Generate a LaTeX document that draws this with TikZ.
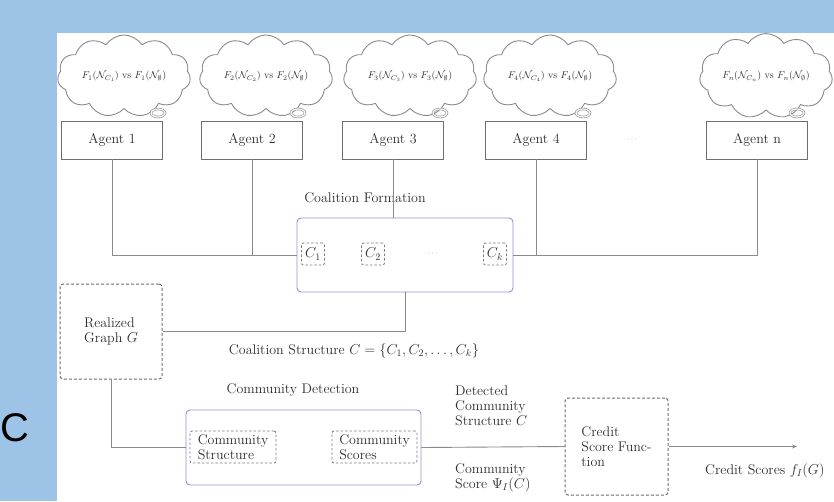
\documentclass[tikz,border=0pt]{standalone}
\usepackage{fontspec}
\newfontfamily\bigfont{Liberation Sans}
\usetikzlibrary{shapes.symbols,shapes.geometric,arrows.meta}
\definecolor{bgblue}{HTML}{9DC3E6}
\definecolor{linegray}{HTML}{8A8A8A}
\definecolor{boxgray}{HTML}{6E6E6E}
\definecolor{purp}{HTML}{9490DA}
\definecolor{dashgray}{HTML}{7A7A7A}
\definecolor{txt}{HTML}{2E2E2E}
\begin{document}
\begin{tikzpicture}[x=1pt,y=-1pt,
  font=\fontsize{14}{15}\selectfont, text=txt,
  line/.style={draw=linegray, line width=0.9pt},
  agent/.style={draw=boxgray, line width=0.9pt, minimum width=101pt, minimum height=38pt, inner sep=0pt},
  cloudnode/.style={cloud, cloud puffs=11, cloud puff arc=115, aspect=1.8, draw=linegray, line width=0.9pt,
     minimum width=133pt, inner sep=0pt, font=\fontsize{10}{11}\selectfont},
  bubble/.style={ellipse, draw=linegray, line width=0.6pt, double, double distance=1.2pt,
     minimum width=14pt, minimum height=8pt, inner sep=0pt},
  purplebox/.style={draw=purp, line width=0.9pt, rounded corners=4pt, inner sep=0pt},
  dashbox/.style={draw=dashgray, dash pattern=on 2.5pt off 2pt, line width=0.8pt, rounded corners=2pt, inner sep=1pt},
  bigdash/.style={draw=boxgray, dash pattern=on 3pt off 2pt, line width=1pt, rounded corners=3pt, inner sep=0pt},
  lbl/.style={inner sep=0pt, align=left},
]
\fill[bgblue] (0,0) rectangle (834,501);
\fill[white] (57,33) rectangle (834,501);
\useasboundingbox (0,0) rectangle (834,501);
\node[font=\fontsize{40}{40}\bigfont, text=black, anchor=east, inner sep=0pt] (bigc) at (30,428) {C};

% clouds
\node[cloudnode] (cl1) at (124,76) {$F_1(\mathcal{N}_{C_1})$ vs $F_1(\mathcal{N}_{\emptyset})$};
\node[cloudnode] (cl2) at (266,76) {$F_2(\mathcal{N}_{C_2})$ vs $F_2(\mathcal{N}_{\emptyset})$};
\node[cloudnode] (cl3) at (410,76) {$F_3(\mathcal{N}_{C_3})$ vs $F_3(\mathcal{N}_{\emptyset})$};
\node[cloudnode] (cl4) at (550,76) {$F_4(\mathcal{N}_{C_4})$ vs $F_4(\mathcal{N}_{\emptyset})$};
\node[cloudnode] (cln) at (766,76) {$F_n(\mathcal{N}_{C_n})$ vs $F_n(\mathcal{N}_{\emptyset})$};
\node[bubble] (b1) at (158,113) {};
\node[bubble] (b2) at (298,113) {};
\node[bubble] (b3) at (440,113) {};
\node[bubble] (b4) at (583,113) {};
\node[bubble] (bn) at (797,113) {};

% agents
\node[agent] (a1) at (112,140) {Agent 1};
\node[agent] (a2) at (252,140) {Agent 2};
\node[agent] (a3) at (393,140) {Agent 3};
\node[agent] (a4) at (536,140) {Agent 4};
\node[agent] (an) at (757,140) {Agent n};
\node[inner sep=0pt, font=\fontsize{8}{8}\selectfont, text=linegray] (adots) at (632,140) {$\cdots$};

% coalition formation
\node[purplebox, minimum width=216pt, minimum height=74pt] (cf) at (405,255) {};
\node[inner sep=0pt] (cflab) at (365,198) {Coalition Formation};
\node[dashbox, minimum width=23pt, minimum height=22pt] (c1) at (313,254) {$C_1$};
\node[dashbox, minimum width=23pt, minimum height=22pt] (c2) at (373,254) {$C_2$};
\node[inner sep=0pt, font=\fontsize{8}{8}\selectfont, text=linegray] (cdots) at (433,254) {$\cdots$};
\node[dashbox, minimum width=23pt, minimum height=22pt] (ck) at (495,254) {$C_k$};

\draw[line] (a1.south) |- (cf.west);
\draw[line] (a2.south) -- (a2.south |- cf.west);
\draw[line] (a3.south) -- (a3.south |- cf.north);
\draw[line] (an.south) |- (cf.east);
\draw[line] (a4.south) -- (a4.south |- cf.east);

% realized graph
\node[bigdash, minimum width=102pt, minimum height=95pt] (rg) at (111,331.5) {};
\node[lbl, anchor=west] (rgt) at (84,331.5) {Realized\\Graph $G$};
\draw[line] (cf.south) |- (rg.east);
\node[inner sep=0pt] (cs) at (354,351) {Coalition Structure $C=\{C_1,C_2,\dots,C_k\}$};

% community detection
\node[inner sep=0pt] (cdlab) at (293,390) {Community Detection};
\node[purplebox, minimum width=235pt, minimum height=75pt] (cd) at (303.5,447.5) {};
\node[dashbox, minimum width=86pt, minimum height=32pt, align=left] (cst) at (233,447) {Community\\Structure};
\node[dashbox, minimum width=85pt, minimum height=32pt, align=left] (csc) at (374.5,447) {Community\\Scores};
\draw[line] (rg.south) |- (cd.west);

% credit score function
\node[bigdash, minimum width=103pt, minimum height=97pt, align=left] (csf) at (616.5,446.5) {Credit\\Score Func-\\tion};
\draw[line] (cd.east) -- (csf.west);
\coordinate (out) at (797,446.5);
\draw[line, -{Stealth[length=5pt,width=4pt]}] (csf.east) -- (out);

\node[lbl, anchor=west] (dcs) at (455,406) {Detected\\Community\\Structure $C$};
\node[lbl, anchor=west] (csl) at (455,477.5) {Community\\Score $\Psi_I(C)$};
\node[lbl, anchor=west] (crs) at (705,471) {Credit Scores $f_I(G)$};
\end{tikzpicture}
\end{document}
